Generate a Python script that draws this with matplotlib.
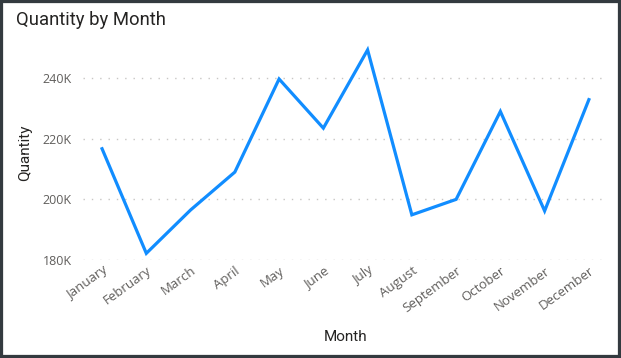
import matplotlib.pyplot as plt
from matplotlib.ticker import FuncFormatter

# Data (thousands)
months = ['January', 'February', 'March', 'April', 'May', 'June', 'July',
          'August', 'September', 'October', 'November', 'December']
quantity = [216.7, 182.2, 196.5, 209.0, 239.7, 223.5, 249.3,
            194.9, 200.0, 229.0, 196.2, 232.9]
y_ticks = [180, 200, 220, 240]

plt.rcParams['font.family'] = ['Open Sans', 'DejaVu Sans']

fig = plt.figure(figsize=(6.21, 3.58), dpi=100)
fig.patch.set_facecolor('white')

# dark border around the visual
border = plt.Rectangle((0, 0), 1, 1, transform=fig.transFigure, fill=False,
                       edgecolor='#333a3f', linewidth=4.5, zorder=10)
fig.add_artist(border)

ax = fig.add_axes([0.1337, 0.2737, 0.8438, 0.6013])
x = list(range(len(months)))
ax.plot(x, quantity, color='#118DFF', linewidth=2.3, solid_joinstyle='miter')

ax.set_xlim(-0.43, 11.41)
ax.set_ylim(180, 251)
ax.set_yticks(y_ticks)
ax.yaxis.set_major_formatter(FuncFormatter(lambda v, p: f'{int(v)}K'))
ax.set_xticks(x)
ax.set_xticklabels(months, rotation=36, ha='right', rotation_mode='anchor')

ax.grid(axis='y', color='#c8c6c4', linestyle=(0, (1, 5)), linewidth=1)
ax.set_axisbelow(True)
for s in ax.spines.values():
    s.set_visible(False)
ax.tick_params(length=0, labelsize=9, labelcolor='#605E5C')
ax.tick_params(axis='x', pad=3, labelsize=9.5)
ax.tick_params(axis='y', pad=8)

fig.text(0.0258, 0.944, 'Quantity by Month', fontsize=13.3, color='#252423',
         family=['Roboto', 'DejaVu Sans'], va='center', ha='left')
fig.text(0.040, 0.573, 'Quantity', fontsize=11, color='#252423', rotation=90,
         family=['Roboto', 'DejaVu Sans'], va='center', ha='center')
fig.text(0.557, 0.059, 'Month', fontsize=11, color='#252423',
         family=['Roboto', 'DejaVu Sans'], va='center', ha='center')

fig.savefig('out.png', dpi=100, facecolor='white')
